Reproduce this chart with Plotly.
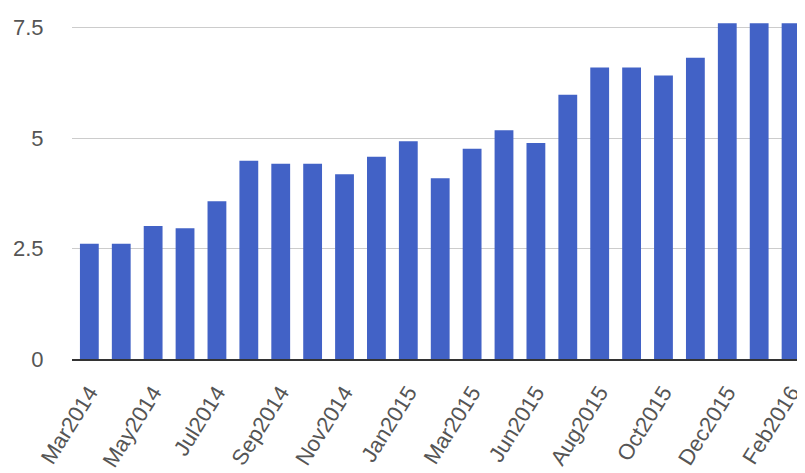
import plotly.graph_objects as go

categories = ["Mar2014", "Apr2014", "May2014", "Jun2014", "Jul2014", "Aug2014",
              "Sep2014", "Oct2014", "Nov2014", "Dec2014", "Jan2015", "Feb2015",
              "Mar2015", "Apr2015", "Jun2015", "Jul2015", "Aug2015", "Sep2015",
              "Oct2015", "Nov2015", "Dec2015", "Jan2016", "Feb2016"]
values = [2.61, 2.61, 3.01, 2.96, 3.57, 4.49,
          4.42, 4.42, 4.18, 4.58, 4.93, 4.09,
          4.76, 5.18, 4.89, 5.98, 6.60, 6.60,
          6.42, 6.82, 7.60, 7.60, 7.60]
shown_labels = categories[::2]
y_ticks = [0, 2.5, 5, 7.5]
y_tick_text = ["0", "2.5", "5", "7.5"]

fig = go.Figure(go.Bar(x=categories, y=values, marker=dict(color="#4262c6", line=dict(width=0))))

# page places the figure at an 8px offset; sizes compensate for that
fig.update_layout(
    width=797, height=465,
    margin=dict(l=64, r=0, t=0, b=113.7, pad=0),
    paper_bgcolor="white", plot_bgcolor="white",
    bargap=0.41,
    showlegend=False,
    font=dict(family="Liberation Sans, Arial, sans-serif", size=22, color="#555"),
)
fig.update_xaxes(
    type="category",
    range=[-0.544, 22.28],
    tickmode="array", tickvals=shown_labels, ticktext=shown_labels,
    tickangle=-58,
    showgrid=False,
    showline=True, linecolor="#333", linewidth=2, layer="above traces",
    ticks="outside", ticklen=10, tickcolor="rgba(0,0,0,0)",
    tickfont=dict(size=22, color="#555"),
)
fig.update_yaxes(
    range=[0, 7.946],
    tickmode="array", tickvals=y_ticks, ticktext=y_tick_text,
    showgrid=True, gridcolor="#cccccc", gridwidth=1,
    zeroline=False, showline=False,
    ticks="outside", ticklen=23, tickcolor="rgba(0,0,0,0)",
    tickfont=dict(size=22, color="#555"),
)

fig.write_html("out.html")
